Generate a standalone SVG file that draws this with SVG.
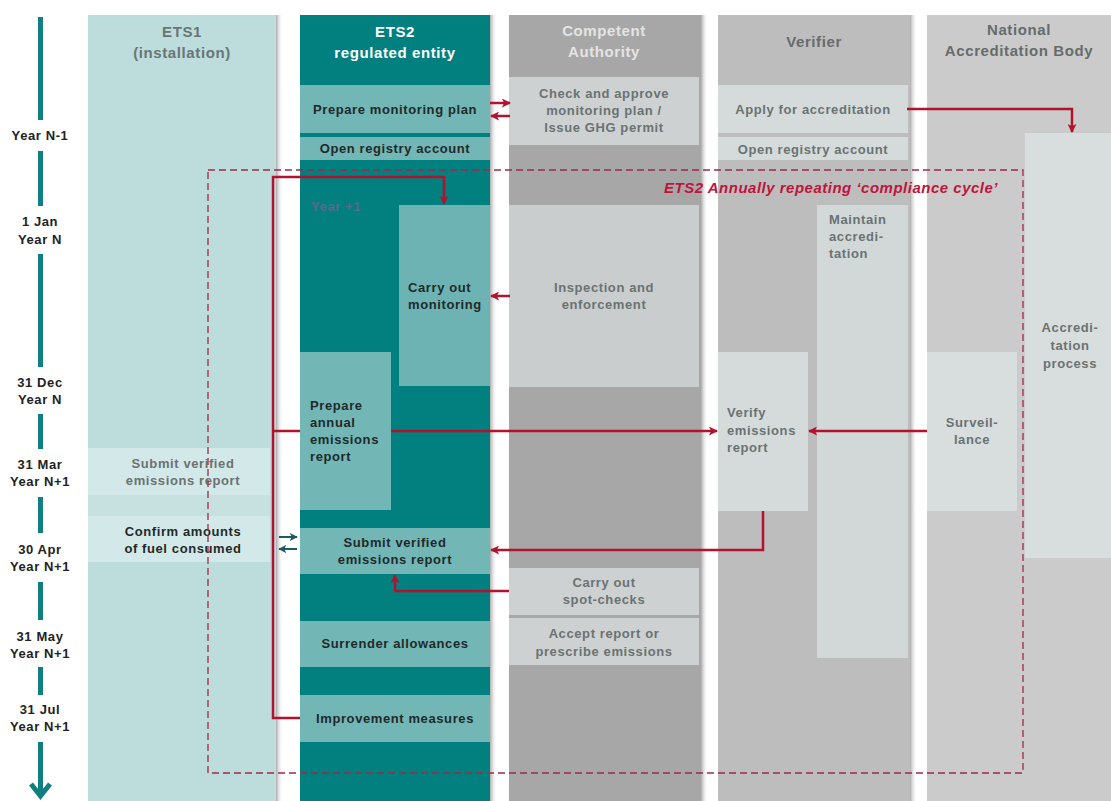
<svg xmlns="http://www.w3.org/2000/svg" width="1111" height="801" viewBox="0 0 1111 801">
  <defs>
    <linearGradient id="shade" x1="0" y1="0" x2="1" y2="0">
      <stop offset="0" stop-color="#8f8f8f" stop-opacity="0.75"/>
      <stop offset="1" stop-color="#ffffff" stop-opacity="0"/>
    </linearGradient>
    <marker id="ah" viewBox="0 0 10 10" refX="9" refY="5" markerWidth="9" markerHeight="9" markerUnits="userSpaceOnUse" orient="auto">
      <path d="M0,0 L10,5 L0,10 L2.5,5 z" fill="#b3122e"/>
    </marker>
    <marker id="ahTeal" viewBox="0 0 10 10" refX="9" refY="5" markerWidth="8" markerHeight="8" markerUnits="userSpaceOnUse" orient="auto">
      <path d="M0,0 L10,5 L0,10 L2.5,5 z" fill="#1d5c5c"/>
    </marker>
  </defs>
  <style>
    text { font-family: "Liberation Sans", Arial, sans-serif; font-weight: bold; }
    .hd { font-size: 15px; letter-spacing: 0.6px; text-anchor: middle; }
    .t { font-size: 13px; letter-spacing: 0.6px; }
    .c { text-anchor: middle; }
    .dark { fill: #1f2a2a; }
    .grey { fill: #6b7272; }
    .time { font-size: 13px; letter-spacing: 0.6px; fill: #222222; text-anchor: middle; }
    .tl { fill: #0f7f7f; }
    .red { fill: none; stroke: #b3122e; stroke-width: 2.5; marker-end: url(#ah); }
    .tealarrow { fill: none; stroke: #1d5c5c; stroke-width: 2; marker-end: url(#ahTeal); }
  </style>

  <rect width="1111" height="801" fill="#ffffff"/>

  <!-- Timeline on the left -->
  <g id="timeline">
    <rect class="tl" x="38" y="17" width="5" height="103"/>
    <text class="time" x="40" y="140">Year N-1</text>
    <rect class="tl" x="38" y="151" width="5" height="55"/>
    <text class="time" x="40" y="226">1 Jan</text>
    <text class="time" x="40" y="244">Year N</text>
    <rect class="tl" x="38" y="254" width="5" height="113"/>
    <text class="time" x="40" y="387">31 Dec</text>
    <text class="time" x="40" y="404">Year N</text>
    <rect class="tl" x="38" y="414" width="5" height="35"/>
    <text class="time" x="40" y="469">31 Mar</text>
    <text class="time" x="40" y="486">Year N+1</text>
    <rect class="tl" x="38" y="497" width="5" height="36"/>
    <text class="time" x="40" y="554">30 Apr</text>
    <text class="time" x="40" y="571">Year N+1</text>
    <rect class="tl" x="38" y="582" width="5" height="38"/>
    <text class="time" x="40" y="641">31 May</text>
    <text class="time" x="40" y="658">Year N+1</text>
    <rect class="tl" x="38" y="667" width="5" height="28"/>
    <text class="time" x="40" y="714">31 Jul</text>
    <text class="time" x="40" y="731">Year N+1</text>
    <rect class="tl" x="38" y="742" width="5" height="52"/>
    <polyline points="31,784 40.5,796 50,784" fill="none" stroke="#0f7f7f" stroke-width="5" stroke-linejoin="miter"/>
  </g>

  <!-- Swimlane columns -->
  <g id="lane-ets1">
    <rect x="88" y="15" width="188" height="786" fill="#bddcdc"/>
    <rect x="276" y="15" width="7" height="786" fill="url(#shade)"/>
    <text class="hd" x="182" y="37" fill="#6a7676">ETS1</text>
    <text class="hd" x="182" y="58" fill="#6a7676">(installation)</text>
  </g>
  <g id="lane-ets2">
    <rect x="300" y="15" width="190" height="786" fill="#027f7f"/>
    <rect x="490" y="15" width="7" height="786" fill="url(#shade)"/>
    <text class="hd" x="395" y="37" fill="#ffffff">ETS2</text>
    <text class="hd" x="395" y="58" fill="#ffffff">regulated entity</text>
    <text x="311" y="211" font-size="13px" letter-spacing="0.6px" fill="#5c6a8c">Year +1</text>
  </g>
  <g id="lane-ca">
    <rect x="509" y="15" width="192" height="786" fill="#a7a7a7"/>
    <rect x="701" y="15" width="7" height="786" fill="url(#shade)"/>
    <text class="hd" x="604" y="36" fill="#e4e4e4">Competent</text>
    <text class="hd" x="604" y="57" fill="#e4e4e4">Authority</text>
  </g>
  <g id="lane-verifier">
    <rect x="718" y="15" width="192" height="786" fill="#bdbdbd"/>
    <rect x="910" y="15" width="7" height="786" fill="url(#shade)"/>
    <text class="hd" x="814" y="47" fill="#666b6b">Verifier</text>
  </g>
  <g id="lane-nab">
    <rect x="927" y="15" width="184" height="786" fill="#cbcbcb"/>
    <text class="hd" x="1019" y="35" fill="#666b6b">National</text>
    <text class="hd" x="1019" y="56" fill="#666b6b">Accreditation Body</text>
  </g>

  <!-- ETS1 activities -->
  <g id="ets1-submit">
    <rect x="88" y="448" width="182" height="47" fill="#d3e8e8"/>
    <text class="t c grey" x="183" y="468">Submit verified</text>
    <text class="t c grey" x="183" y="485">emissions report</text>
  </g>
  <rect x="88" y="495" width="182" height="21" fill="#c7e1e1"/>
  <g id="ets1-confirm">
    <rect x="88" y="516" width="182" height="46" fill="#d3e8e8"/>
    <text class="t c dark" x="183" y="536">Confirm amounts</text>
    <text class="t c dark" x="183" y="553">of fuel consumed</text>
  </g>

  <!-- ETS2 activities -->
  <g id="ets2-plan">
    <rect x="300" y="85" width="190" height="48" fill="#72b6b6"/>
    <text class="t c dark" x="395" y="114">Prepare monitoring plan</text>
  </g>
  <g id="ets2-registry">
    <rect x="300" y="137" width="190" height="23" fill="#72b6b6"/>
    <text class="t c dark" x="395" y="153">Open registry account</text>
  </g>
  <g id="ets2-monitoring">
    <rect x="399" y="205" width="91" height="181" fill="#6db3b3"/>
    <text class="t dark" x="408" y="292">Carry out</text>
    <text class="t dark" x="408" y="309">monitoring</text>
  </g>
  <g id="ets2-annual-report">
    <rect x="300" y="352" width="91" height="158" fill="#72b6b6"/>
    <text class="t dark" x="310" y="410">Prepare</text>
    <text class="t dark" x="310" y="427">annual</text>
    <text class="t dark" x="310" y="444">emissions</text>
    <text class="t dark" x="310" y="461">report</text>
  </g>
  <g id="ets2-submit">
    <rect x="300" y="528" width="190" height="46" fill="#72b6b6"/>
    <text class="t c dark" x="395" y="547">Submit verified</text>
    <text class="t c dark" x="395" y="564">emissions report</text>
  </g>
  <g id="ets2-surrender">
    <rect x="300" y="621" width="190" height="46" fill="#72b6b6"/>
    <text class="t c dark" x="395" y="648">Surrender allowances</text>
  </g>
  <g id="ets2-improvement">
    <rect x="300" y="695" width="190" height="47" fill="#72b6b6"/>
    <text class="t c dark" x="395" y="723">Improvement measures</text>
  </g>

  <!-- Competent Authority activities -->
  <g id="ca-approve">
    <rect x="509" y="77" width="190" height="68" fill="#cdd1d1"/>
    <text class="t c grey" x="604" y="98">Check and approve</text>
    <text class="t c grey" x="604" y="115">monitoring plan /</text>
    <text class="t c grey" x="604" y="132">Issue GHG permit</text>
  </g>
  <g id="ca-inspection">
    <rect x="509" y="205" width="190" height="182" fill="#c9cdcd"/>
    <text class="t c grey" x="604" y="292">Inspection and</text>
    <text class="t c grey" x="604" y="309">enforcement</text>
  </g>
  <g id="ca-spotchecks">
    <rect x="509" y="568" width="190" height="47" fill="#cdd1d1"/>
    <text class="t c grey" x="604" y="587">Carry out</text>
    <text class="t c grey" x="604" y="604">spot-checks</text>
  </g>
  <g id="ca-accept">
    <rect x="509" y="618" width="190" height="47" fill="#cdd1d1"/>
    <text class="t c grey" x="604" y="638">Accept report or</text>
    <text class="t c grey" x="604" y="656">prescribe emissions</text>
  </g>

  <!-- Verifier activities -->
  <g id="ver-apply">
    <rect x="718" y="85" width="190" height="48" fill="#d5dbdb"/>
    <text class="t c grey" x="813" y="114">Apply for accreditation</text>
  </g>
  <g id="ver-registry">
    <rect x="718" y="137" width="190" height="23" fill="#d5dbdb"/>
    <text class="t c grey" x="813" y="154">Open registry account</text>
  </g>
  <g id="ver-maintain">
    <rect x="817" y="205" width="91" height="453" fill="#d2d8d8"/>
    <text class="t grey" x="829" y="224">Maintain</text>
    <text class="t grey" x="829" y="241">accredi-</text>
    <text class="t grey" x="829" y="258">tation</text>
  </g>
  <g id="ver-verify">
    <rect x="718" y="352" width="90" height="159" fill="#d5dbdb"/>
    <text class="t grey" x="727" y="417">Verify</text>
    <text class="t grey" x="727" y="435">emissions</text>
    <text class="t grey" x="727" y="452">report</text>
  </g>

  <!-- National Accreditation Body activities -->
  <g id="nab-accreditation">
    <rect x="1025" y="133" width="86" height="425" fill="#d8dddd"/>
    <text class="t c grey" x="1070" y="332">Accredi-</text>
    <text class="t c grey" x="1070" y="350">tation</text>
    <text class="t c grey" x="1070" y="368">process</text>
  </g>
  <g id="nab-surveillance">
    <rect x="927" y="352" width="90" height="159" fill="#d8dddd"/>
    <text class="t c grey" x="972" y="427">Surveil-</text>
    <text class="t c grey" x="972" y="444">lance</text>
  </g>

  <!-- Connectors -->
  <g id="connectors">
    <path class="red" d="M490,103 H510"/>
    <path class="red" d="M510,116 H491"/>
    <path class="red" d="M907,109 H1072 V132"/>
    <path class="red" d="M300,718 H273 V177 H444 V204"/>
    <path class="red" d="M273,431 H300 M391,431 H717"/>
    <path class="red" d="M927,431 H809"/>
    <path class="red" d="M510,296 H491"/>
    <path class="red" d="M763,511 V550 H491"/>
    <path class="red" d="M509,591 H395 V575"/>
    <path class="tealarrow" d="M279,537 H297"/>
    <path class="tealarrow" d="M297,549 H279"/>
  </g>

  <!-- Annually repeating compliance cycle frame -->
  <g id="compliance-cycle">
    <rect x="208" y="170" width="815" height="603" fill="none" stroke="#9e2a48" stroke-width="1.3" stroke-dasharray="7 4"/>
    <text x="998" y="193" font-size="15px" letter-spacing="0.5px" font-style="italic" fill="#c0143c" text-anchor="end">ETS2 Annually repeating ‘compliance cycle’</text>
  </g>
</svg>
